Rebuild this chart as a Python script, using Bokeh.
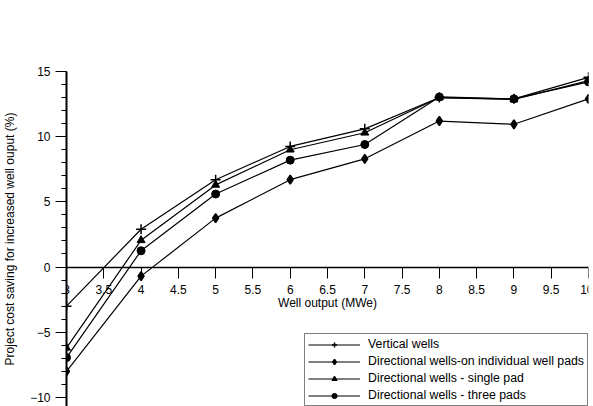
from bokeh.plotting import figure
from bokeh.embed import file_html
from bokeh.resources import INLINE
from bokeh.models import Range1d, SingleIntervalTicker, NumeralTickFormatter

# Data
well_output = [3, 4, 5, 6, 7, 8, 9, 10]
vertical_wells = [-3.0, 2.9, 6.7, 9.25, 10.6, 13.0, 12.9, 14.55]
directional_individual = [-8.0, -0.7, 3.75, 6.7, 8.3, 11.2, 10.95, 12.9]
directional_single = [-6.2, 2.05, 6.3, 9.0, 10.3, 13.0, 12.85, 14.3]
directional_three = [-6.95, 1.25, 5.6, 8.2, 9.4, 13.05, 12.9, 14.2]

series = [
    ("Vertical wells", vertical_wells, "cross", 10),
    ("Directional wells-on individual well pads", directional_individual, "diamond", 9),
    ("Directional wells - single pad", directional_single, "triangle", 8),
    ("Directional wells - three pads", directional_three, "circle", 8),
]

FONT = "Liberation Sans"

p = figure(width=593, height=406,
           x_range=Range1d(3, 10), y_range=Range1d(-10.7, 15),
           output_backend="svg", toolbar_location=None,
           min_border_left=66, min_border_right=5,
           min_border_top=71, min_border_bottom=0)
p.outline_line_color = None
p.grid.visible = False
p.background_fill_color = "white"

for name, ys, marker, size in series:
    p.line(well_output, ys, line_color="black", line_width=1.2, legend_label=name)
    p.scatter(well_output, ys, marker=marker, size=size, fill_color="black",
              line_color="black", line_width=1.5 if marker in ("cross", "diamond") else 1,
              legend_label=name)

# X axis crossing at zero
xa = p.xaxis[0]
xa.fixed_location = 0
xa.ticker = SingleIntervalTicker(interval=0.5, num_minor_ticks=0)
xa.formatter = NumeralTickFormatter(format="0.[0]")
xa.major_tick_in = 0
xa.major_tick_out = 11
xa.minor_tick_out = 0
xa.axis_line_width = 1.5
xa.axis_label = "Well output (MWe)"
xa.axis_label_standoff = -2
xa.major_label_standoff = 7

ya = p.yaxis[0]
ya.ticker = SingleIntervalTicker(interval=5, num_minor_ticks=5)
ya.major_tick_in = 0
ya.major_tick_out = 11
ya.minor_tick_in = 0
ya.minor_tick_out = 5
ya.axis_line_width = 2
ya.axis_label = "Project cost saving for increased well ouput (%)"
ya.axis_label_standoff = 10
ya.major_label_standoff = 5

for ax in (xa, ya):
    ax.major_label_text_font = FONT
    ax.major_label_text_font_size = "12px"
    ax.major_label_text_color = "black"
    ax.axis_label_text_font = FONT
    ax.axis_label_text_font_size = "12px"
    ax.axis_label_text_font_style = "normal"
    ax.axis_label_text_color = "black"
    ax.axis_line_color = "black"
    ax.major_tick_line_color = "black"
    ax.minor_tick_line_color = "black"

lg = p.legend[0]
lg.location = "bottom_right"
lg.margin = 0
lg.padding = 3
lg.spacing = 3
lg.label_height = 13
lg.glyph_height = 13
lg.glyph_width = 52
lg.label_standoff = 8
lg.label_text_font = FONT
lg.label_text_font_size = "12.3px"
lg.label_text_color = "black"
lg.border_line_color = "black"
lg.border_line_width = 1
lg.background_fill_alpha = 1

open("out.html", "w").write(file_html(p, INLINE))
